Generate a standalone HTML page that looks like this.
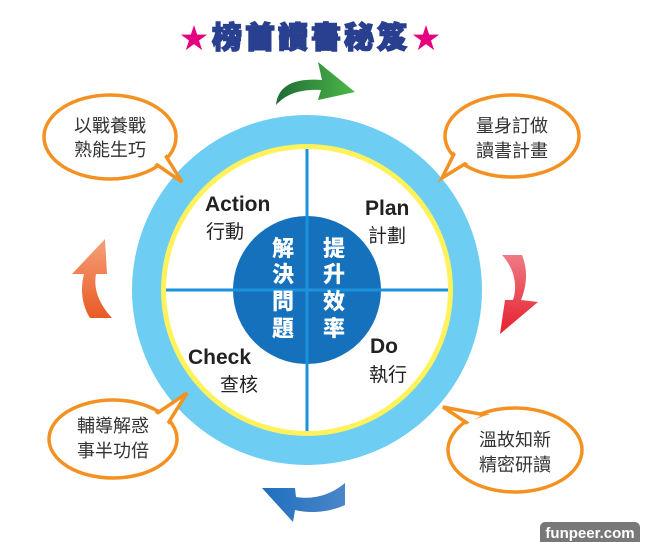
<!DOCTYPE html>
<html><head><meta charset="utf-8"><style>
html,body{margin:0;padding:0;background:#fff;width:660px;height:542px;overflow:hidden}
svg{display:block}
.cj{font-family:"Liberation Sans","Noto Sans CJK TC",sans-serif}
</style></head><body>
<svg width="660" height="542" viewBox="0 0 660 542" xmlns="http://www.w3.org/2000/svg">
<defs>
<linearGradient id="gg" x1="0" y1="0" x2="1" y2="0"><stop offset="0" stop-color="#1f6b35"/><stop offset="1" stop-color="#4db848"/></linearGradient>
<linearGradient id="gr" x1="0" y1="0" x2="0" y2="1"><stop offset="0" stop-color="#ef7a86"/><stop offset="1" stop-color="#e5202b"/></linearGradient>
<linearGradient id="gb" x1="1" y1="0" x2="0" y2="0"><stop offset="0" stop-color="#4a86c8"/><stop offset="1" stop-color="#1f6fbf"/></linearGradient>
<linearGradient id="go" x1="0" y1="0" x2="0" y2="1"><stop offset="0" stop-color="#f5a07a"/><stop offset="1" stop-color="#ea5a24"/></linearGradient>
</defs>
<text x="180" y="48" font-size="28" fill="#e5007f" class="cj">★</text>
<text x="212" y="48" font-size="30" font-weight="900" fill="#28408f" stroke="#28408f" stroke-width="1.5" class="cj" letter-spacing="3">榜首讀書秘笈</text>
<text x="412" y="48" font-size="28" fill="#e5007f" class="cj">★</text>
<circle cx="307" cy="290" r="175" fill="#6dcdf3"/>
<circle cx="307" cy="290" r="146" fill="#fff25a"/>
<circle cx="307" cy="290" r="141" fill="#fff"/>
<circle cx="307" cy="290" r="74" fill="#1671bd"/>
<line x1="307" y1="149" x2="307" y2="431" stroke="#1a93dc" stroke-width="3"/>
<line x1="166" y1="290" x2="448" y2="290" stroke="#1a93dc" stroke-width="3"/>
<g fill="#222" class="cj">
<text x="205" y="211" font-size="21" font-weight="bold">Action</text>
<text x="206" y="238" font-size="19">行動</text>
<text x="365" y="215" font-size="21" font-weight="bold">Plan</text>
<text x="368" y="242" font-size="19">計劃</text>
<text x="188" y="364" font-size="21" font-weight="bold">Check</text>
<text x="220" y="391" font-size="19">查核</text>
<text x="370" y="353" font-size="21" font-weight="bold">Do</text>
<text x="369" y="381" font-size="19">執行</text>
</g>
<g fill="#fff" font-size="22" font-weight="900" class="cj" text-anchor="middle">
<text x="283" y="256">解</text><text x="283" y="282">決</text><text x="283" y="309">問</text><text x="283" y="336">題</text>
<text x="334" y="256">提</text><text x="334" y="282">升</text><text x="334" y="309">效</text><text x="334" y="336">率</text>
</g>
<g stroke="#f39223" stroke-width="3.5" fill="#fff">
<ellipse cx="110" cy="137" rx="66" ry="42"/>
<ellipse cx="512" cy="136" rx="67" ry="41"/>
<ellipse cx="113" cy="439" rx="64" ry="39"/>
<ellipse cx="515" cy="450" rx="67" ry="42"/>
<polygon points="150,160 182,182 162,150"/>
<polygon points="468,162 442,178 456,150"/>
<polygon points="150,418 187,393 165,428" />
<polygon points="470,425 443,407 485,415"/>
</g>
<g fill="#fff"><ellipse cx="110" cy="137" rx="63" ry="39"/><ellipse cx="512" cy="136" rx="64" ry="38"/><ellipse cx="113" cy="439" rx="61" ry="36"/><ellipse cx="515" cy="450" rx="64" ry="39"/></g>
<g fill="#333" font-size="18" class="cj" text-anchor="middle">
<text x="110" y="132">以戰養戰</text><text x="110" y="156">熟能生巧</text>
<text x="512" y="132">量身訂做</text><text x="512" y="157">讀書計畫</text>
<text x="113" y="432">輔導解惑</text><text x="113" y="457">事半功倍</text>
<text x="515" y="446">溫故知新</text><text x="515" y="471">精密研讀</text>
</g>
<path d="M276,105 C278,85 295,78 322,80 L318,62 L355,92 L318,100 L321,90 C300,89 286,94 276,105 Z" fill="url(#gg)"/>
<path d="M502,255 L522,255 C528,270 527,285 521,300 L538,302 L500,334 L505,300 L513,300 C518,285 514,268 502,255 Z" fill="url(#gr)"/>
<path d="M345,483 L345,505 C330,512 310,514 295,510 L293,522 L262,488 L295,488 L296,497 C315,500 332,494 345,483 Z" fill="url(#gb)"/>
<path d="M112,318 L90,318 C82,305 80,290 84,274 L72,274 L105,239 L107,274 L96,274 C93,290 100,305 112,318 Z" fill="url(#go)"/>
<rect x="540" y="522" width="100" height="26" rx="5" fill="#787878"/>
<text x="590" y="538" font-size="15" font-weight="bold" fill="#fff" text-anchor="middle" font-family="Liberation Sans,sans-serif">funpeer.com</text>
</svg>
</body></html>
